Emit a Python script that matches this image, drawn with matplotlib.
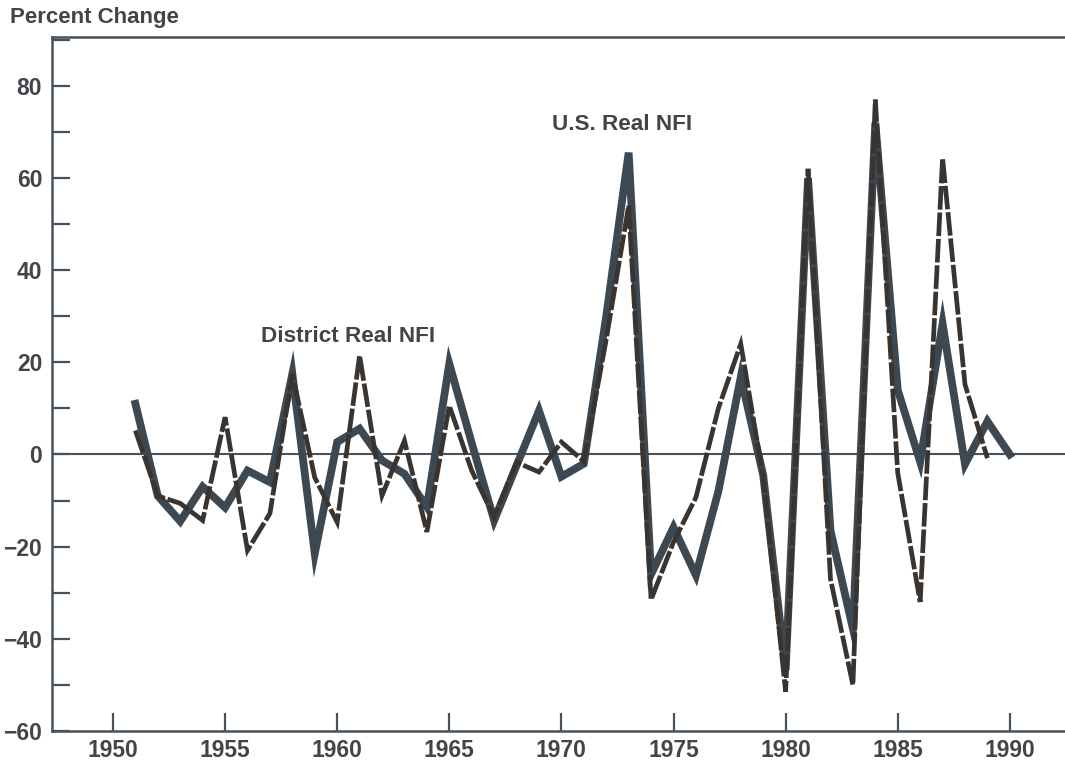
#!/usr/bin/env python3
"""
nfi_growth.py - Annual percent change in real net farm income,
District vs. U.S., 1951-1990.
"""

import matplotlib
matplotlib.use("Agg")
import matplotlib.pyplot as plt
from matplotlib.ticker import MultipleLocator, FixedLocator

# Data (percent change from previous year)
us_years = list(range(1951, 1991))
us_nfi = [11, -9, -14.5, -7, -11.5, -3.5, -6, 17.5, -21.5, 2.7,
          5.6, -1.3, -4.2, -11.4, 19.7, 2.5, -14.3, -2.4, 9.5, -4.8,
          -2, 30, 65.5, -26, -15.8, -26.2, -8, 16.8, -4.5, -46.8,
          60, -16.5, -37.8, 72, 14, -1.6, 28.4, -2.1, 7.2, 0]

district_years = list(range(1951, 1990))
district_nfi = [5.2, -9, -10.6, -14.3, 8.1, -20.8, -12.8, 17.5, -5, -14.7,
                21.5, -8.9, 3, -16.8, 10.6, -3.5, -13.6, -1.7, -3.8, 2.7,
                -1.5, 25, 54, -31.5, -19, -9.3, 10, 24, -5, -51.5,
                62, -27, -50, 77, -4, -32, 64.3, 15.2, -0.8]

y_major = [-60, -40, -20, 0, 20, 40, 60, 80]
x_major = [1950, 1955, 1960, 1965, 1970, 1975, 1980, 1985, 1990]

SOLID_COLOR = "#3c4852"
DASH_COLOR = "#3a3430"
TEXT_COLOR = "#414549"
AXIS_COLOR = "#47525c"

plt.rcParams["font.family"] = ["Liberation Sans", "DejaVu Sans"]
plt.rcParams["font.weight"] = "bold"


def create_figure():
    fig = plt.figure(figsize=(10.65, 7.64), dpi=100)
    ax = fig.add_axes([0.0488, 0.0432, 0.9512, 0.9084])

    ax.axhline(0, color=AXIS_COLOR, linewidth=1.5, zorder=1)

    ax.plot(us_years, us_nfi, color=SOLID_COLOR, linewidth=5.6,
            solid_joinstyle="miter", zorder=2)
    ax.plot(district_years, district_nfi, color=DASH_COLOR, linewidth=3.4,
            dashes=(5, 0.6), dash_joinstyle="miter", zorder=3)

    ax.set_xlim(1947.28, 1992.46)
    ax.set_ylim(-60, 90.6)

    ax.yaxis.set_major_locator(FixedLocator(y_major))
    ax.yaxis.set_minor_locator(MultipleLocator(10))
    ax.xaxis.set_major_locator(FixedLocator(x_major))

    ax.tick_params(axis="both", which="both", direction="in", length=13,
                   width=1.6, color=AXIS_COLOR)
    ax.tick_params(axis="y", which="major", labelsize=16.5, pad=7,
                   labelcolor=TEXT_COLOR)
    ax.tick_params(axis="x", which="major", labelsize=16.5, pad=6,
                   labelcolor=TEXT_COLOR)
    for lbl in ax.get_xticklabels() + ax.get_yticklabels():
        lbl.set_fontweight("bold")

    for side in ("left", "bottom", "top"):
        ax.spines[side].set_color(AXIS_COLOR)
        ax.spines[side].set_linewidth(1.8)
    ax.spines["right"].set_visible(False)

    ax.text(1956.6, 25.5, "District Real NFI", fontsize=16.2, fontweight="bold",
            color=TEXT_COLOR, ha="left", va="center")
    ax.text(1969.6, 71.5, "U.S. Real NFI", fontsize=16.2, fontweight="bold",
            color=TEXT_COLOR, ha="left", va="center")

    fig.text(10 / 1065, 1 - 18 / 764, "Percent Change", fontsize=16,
             fontweight="bold", color=TEXT_COLOR, ha="left", va="center")
    return fig


def main():
    fig = create_figure()
    fig.savefig("out.png", dpi=100)
    plt.close(fig)


if __name__ == "__main__":
    main()
